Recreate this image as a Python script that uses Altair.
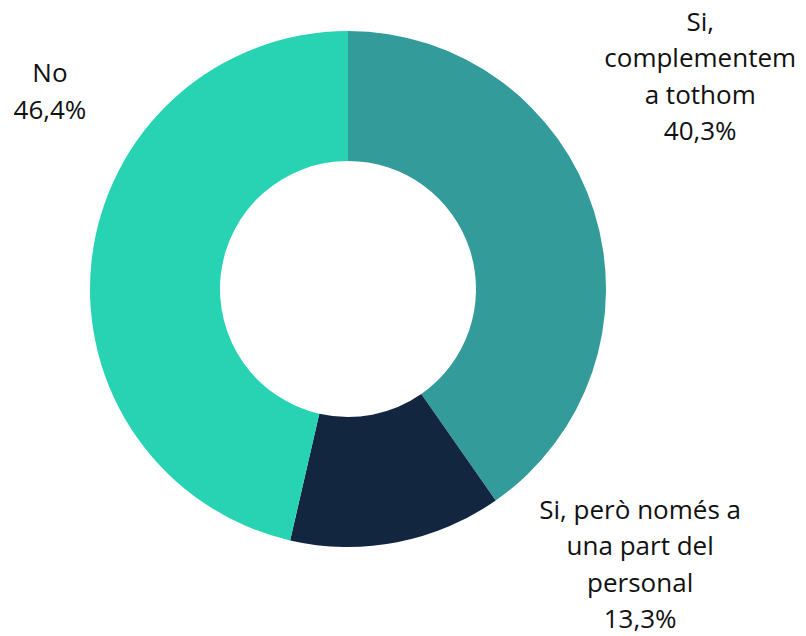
import altair as alt
import pandas as pd

categories = ["Si, complementem a tothom", "Si, però només a una part del personal", "No"]
label_lines = [["Si,", "complementem", "a tothom"], ["Si, però només a", "una part del", "personal"], ["No"]]
values = [40.3, 13.3, 46.4]
colors = ["#339c9a", "#12263f", "#27d3b3"]

df = pd.DataFrame({
    "categoria": categories,
    "valor": values,
    "ordre": [0, 1, 2],
    "etiqueta": ["\n".join(l + [f"{v:.1f}".replace(".", ",") + "%"]) for l, v in zip(label_lines, values)],
})

base = alt.Chart(df).encode(
    theta=alt.Theta("valor:Q", stack=True),
    order=alt.Order("ordre:Q"),
)

arcs = base.mark_arc(innerRadius=128, outerRadius=258).encode(
    color=alt.Color("categoria:N", scale=alt.Scale(domain=categories, range=colors), legend=None)
)

offsets = [(66, -176), (235, -73), (0, -181)]
layers = [arcs]
for cat, (dx, dy) in zip(categories, offsets):
    layers.append(
        base.mark_text(
            dx=dx, dy=dy, font="Open Sans", fontSize=26, lineBreak="\n", lineHeight=36.5,
            align="center", baseline="middle", color="#111111",
        ).encode(
            radius=alt.value(300),
            text=alt.condition(alt.datum.categoria == cat, "etiqueta:N", alt.value("")),
        )
    )

chart = alt.layer(*layers).properties(
    width=680, height=562,
    autosize=alt.AutoSizeParams(type="none"),
    padding={"left": 0, "top": 0, "right": 110, "bottom": 66},
).configure_view(stroke=None)
chart.save("out.html", embed_options={"renderer": "svg", "actions": False})
